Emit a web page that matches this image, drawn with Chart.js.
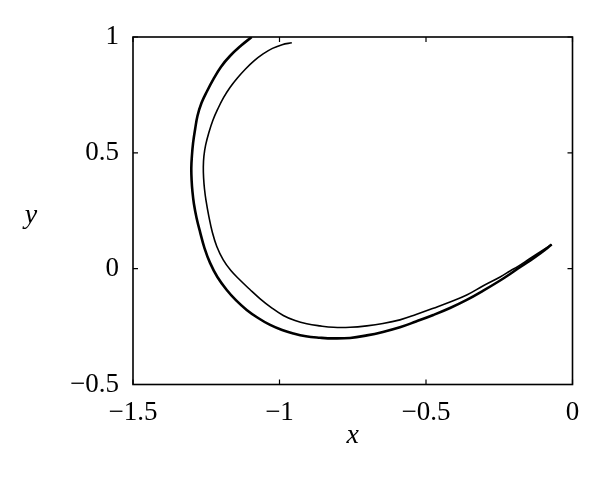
<!DOCTYPE html>
<html>
<head>
<meta charset="utf-8">
<script src="https://cdn.jsdelivr.net/npm/chart.js@4/dist/chart.umd.min.js"></script>
<style>
html,body{margin:0;padding:0;background:#fff;}
#wrap{width:600px;height:495px;}
</style>
</head>
<body>
<div id="wrap"><canvas id="c" width="600" height="495"></canvas></div>
<script>
// Outer (thick) branch: from the top edge, round the left side and bottom, to the right tip
const outerX = [-1.095,-1.131,-1.169,-1.200,-1.226,-1.247,-1.266,-1.280,-1.288,-1.295,-1.299,-1.301,-1.300,-1.297,-1.292,-1.283,-1.271,-1.256,-1.237,-1.212,-1.180,-1.148,-1.112,-1.073,-1.032,-0.991,-0.953,-0.910,-0.862,-0.817,-0.759,-0.702,-0.647,-0.589,-0.534,-0.475,-0.418,-0.361,-0.306,-0.247,-0.213,-0.186,-0.145,-0.108,-0.071];
const outerY = [1.000,0.963,0.918,0.871,0.817,0.767,0.716,0.659,0.602,0.542,0.486,0.435,0.383,0.331,0.279,0.219,0.158,0.089,0.025,-0.036,-0.092,-0.137,-0.178,-0.213,-0.243,-0.265,-0.280,-0.292,-0.298,-0.301,-0.299,-0.288,-0.273,-0.253,-0.228,-0.200,-0.170,-0.135,-0.096,-0.051,-0.023,0.001,0.035,0.068,0.104];
// Inner (thin) branch
const innerX = [-0.958,-0.991,-1.024,-1.056,-1.087,-1.116,-1.143,-1.169,-1.191,-1.210,-1.227,-1.241,-1.252,-1.258,-1.260,-1.259,-1.256,-1.251,-1.241,-1.229,-1.214,-1.192,-1.166,-1.135,-1.101,-1.067,-1.029,-0.987,-0.947,-0.907,-0.862,-0.816,-0.759,-0.702,-0.647,-0.589,-0.534,-0.475,-0.418,-0.361,-0.306,-0.247,-0.213,-0.186,-0.145,-0.108,-0.071];
const innerY = [0.975,0.967,0.951,0.927,0.897,0.862,0.824,0.782,0.738,0.691,0.642,0.588,0.534,0.486,0.439,0.391,0.344,0.296,0.225,0.156,0.096,0.038,-0.008,-0.049,-0.090,-0.129,-0.167,-0.202,-0.224,-0.238,-0.247,-0.253,-0.253,-0.247,-0.237,-0.221,-0.198,-0.171,-0.144,-0.114,-0.075,-0.036,-0.010,0.010,0.044,0.074,0.104];
const xTicks = [-1.5,-1,-0.5,0];
const yTicks = [-0.5,0,0.5,1];
const xTickLabels = ["\u22121.5","\u22121","\u22120.5","0"];
const yTickLabels = ["\u22120.5","0","0.5","1"];
const xTitle = "x";
const yTitle = "y";

const toPts = (xs, ys) => xs.map((v,i)=>({x:v,y:ys[i]}));

const frame = {
  id:'frame',
  afterDatasetsDraw(chart){
    const {ctx, chartArea:a, scales:{x, y}} = chart;
    ctx.save();
    ctx.strokeStyle='#000';
    ctx.lineWidth=1.6;
    ctx.strokeRect(a.left, a.top, a.right-a.left, a.bottom-a.top);
    ctx.lineWidth=1.2;
    const tl=5;
    ctx.beginPath();
    xTicks.forEach(v=>{
      const p=x.getPixelForValue(v);
      ctx.moveTo(p,a.bottom); ctx.lineTo(p,a.bottom-tl);
      ctx.moveTo(p,a.top); ctx.lineTo(p,a.top+tl);
    });
    yTicks.forEach(v=>{
      const p=y.getPixelForValue(v);
      ctx.moveTo(a.left,p); ctx.lineTo(a.left+tl,p);
      ctx.moveTo(a.right,p); ctx.lineTo(a.right-tl,p);
    });
    ctx.stroke();
    ctx.fillStyle='#000';
    ctx.font='italic 28px "Liberation Serif"';
    ctx.textAlign='center';
    ctx.textBaseline='alphabetic';
    ctx.fillText(xTitle,(a.left+a.right)/2,443);
    ctx.fillText(yTitle,31,223);
    ctx.restore();
  }
};

new Chart(document.getElementById('c'),{
  type:'scatter',
  data:{datasets:[
    {data:toPts(outerX,outerY),showLine:true,borderColor:'#000',borderWidth:2.6,pointRadius:0,tension:0.4,fill:false},
    {data:toPts(innerX,innerY),showLine:true,borderColor:'#000',borderWidth:1.6,pointRadius:0,tension:0.4,fill:false}
  ]},
  options:{
    responsive:false,animation:false,devicePixelRatio:1,
    layout:{padding:{left:0,right:27.5,top:37,bottom:0}},
    plugins:{legend:{display:false},tooltip:{enabled:false},title:{display:false}},
    scales:{
      x:{type:'linear',min:-1.5,max:0,
        afterBuildTicks:s=>{s.ticks=xTicks.map(v=>({value:v}));},
        afterFit:s=>{s.height=110.5;},
        grid:{display:false},border:{display:false},
        ticks:{padding:4,color:'#000',maxRotation:0,font:{family:'"Liberation Serif"',size:27},
          callback:(v)=>{const i=xTicks.indexOf(v);return i>=0?xTickLabels[i]:'';}}},
      y:{type:'linear',min:-0.5,max:1,
        afterBuildTicks:s=>{s.ticks=yTicks.map(v=>({value:v}));},
        afterFit:s=>{s.width=133;},
        grid:{display:false},border:{display:false},
        ticks:{padding:6,color:'#000',font:{family:'"Liberation Serif"',size:27},
          callback:(v)=>{const i=yTicks.indexOf(v);return i>=0?yTickLabels[i]:'';}}}
    }
  },
  plugins:[frame]
});
</script>
</body>
</html>
